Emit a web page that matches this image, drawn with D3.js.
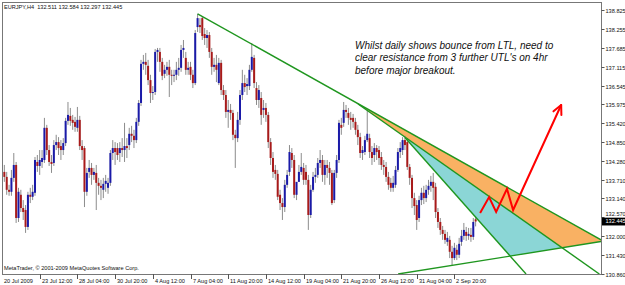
<!DOCTYPE html>
<html><head><meta charset="utf-8">
<script src="https://cdn.jsdelivr.net/npm/d3@7"></script>
<style>html,body{margin:0;padding:0;background:#fff;overflow:hidden}svg{display:block}</style>
</head><body><svg id="c" width="625" height="285"></svg>
<script>
const symbolInfo = "EURJPY,H4  132.511 132.584 132.297 132.445";
const copyright = "MetaTrader, \u00a9 2001-2009 MetaQuotes Software Corp.";
const timeLabels = ["20 Jul 2009","23 Jul 12:00","28 Jul 04:00","30 Jul 20:00","4 Aug 12:00","7 Aug 04:00","11 Aug 20:00","14 Aug 12:00","19 Aug 04:00","21 Aug 20:00","26 Aug 12:00","31 Aug 04:00","2 Sep 20:00"];
const timeLabelBars = [0,16,32,48,64,80,96,112,128,144,160,176,192];
const priceLabels = ["138.825","138.255","137.685","137.115","136.545","135.975","135.420","134.850","134.280","133.710","133.140","132.570","132.000","131.430","130.860"];
const lastPrice = 132.445;

const open = [
134.15,133.94,133.79,133.40,133.34,133.76,134.15,132.55,133.25,132.85,
132.79,132.28,133.25,133.19,133.31,134.24,134.12,134.24,134.30,135.27,
134.60,134.24,134.21,134.75,134.84,134.72,134.60,134.81,135.48,135.63,
135.51,135.45,135.27,135.51,134.72,134.66,133.34,133.94,134.06,133.85,
133.91,133.61,133.52,133.40,133.58,133.46,133.61,134.51,134.66,134.66,
134.51,134.66,134.60,134.72,134.75,135.09,135.03,134.90,135.45,136.02,
137.20,137.26,137.14,136.71,136.32,136.35,137.56,137.56,137.26,136.90,
137.02,137.11,136.87,136.84,136.87,137.02,137.08,137.62,137.38,137.02,
137.11,136.87,136.62,138.31,138.37,138.58,138.10,137.98,138.07,137.56,
137.11,137.17,136.62,137.23,136.41,136.26,135.75,135.81,135.72,135.06,
134.96,135.51,136.26,136.62,136.53,136.53,137.02,137.38,136.47,136.11,
136.17,135.81,135.87,135.66,134.84,134.36,134.00,133.88,133.25,133.00,
132.88,133.55,133.94,134.51,134.30,133.25,133.64,133.94,134.06,133.94,
133.70,132.64,133.40,133.79,133.85,134.21,134.30,133.85,134.15,134.06,
133.91,133.09,133.91,134.30,135.36,135.42,135.81,135.72,135.57,135.57,
135.45,135.21,134.99,134.51,134.54,134.90,134.96,134.54,134.45,134.66,
134.60,134.39,134.15,134.09,133.79,133.61,133.46,133.55,134.00,134.54,
134.60,134.90,134.84,134.09,133.76,133.15,132.94,132.55,133.09,133.31,
133.15,133.40,133.52,133.64,133.49,132.73,132.43,132.19,132.07,131.83,
131.89,131.53,131.34,131.59,131.44,131.83,132.01,132.13,132.01,132.04,
131.98,132.511];
const high = [
134.30,134.15,133.94,133.55,134.00,134.51,134.24,133.46,133.40,133.09,
132.94,133.34,133.46,133.55,134.39,134.45,134.60,134.60,135.57,135.36,
134.75,134.45,134.90,135.06,134.99,134.90,134.96,135.57,136.05,135.87,
135.66,135.60,135.90,135.63,134.90,134.72,134.06,134.30,134.21,134.06,
134.15,133.76,133.70,133.76,133.85,133.76,134.60,134.90,134.84,134.81,
134.84,134.96,135.42,134.96,135.27,135.33,135.21,135.57,136.11,137.32,
137.47,137.53,137.32,136.87,136.53,137.65,137.68,137.68,137.38,137.17,
137.26,137.32,137.02,137.02,137.26,137.38,137.77,137.92,137.56,137.26,
137.26,137.02,138.22,138.71,138.58,138.64,138.28,138.22,138.16,137.68,
137.38,137.47,137.38,137.32,136.56,136.41,136.11,135.99,135.81,135.21,
135.75,136.41,137.02,136.87,136.77,137.17,137.83,137.47,136.65,136.56,
136.35,136.11,136.02,135.75,134.96,134.54,134.15,134.00,133.40,133.15,
133.70,134.00,134.75,134.66,134.45,133.55,134.15,134.51,134.21,134.15,
133.85,133.55,133.94,134.06,134.36,134.60,134.45,134.30,134.30,134.24,
134.00,134.00,134.45,135.51,135.57,136.05,135.96,135.87,135.75,135.69,
135.57,135.36,135.12,134.72,135.03,135.81,135.09,134.72,134.81,134.75,
134.72,134.54,134.30,134.24,133.94,133.76,133.82,134.12,134.66,134.84,
134.99,135.03,134.96,134.18,133.85,133.31,133.09,133.22,133.46,133.52,
133.55,133.70,133.82,133.91,133.61,132.85,132.55,132.31,132.19,132.13,
132.01,131.71,131.80,131.74,131.95,132.19,132.40,132.28,132.25,132.25,
132.55,132.584];
const low = [
133.76,133.64,133.25,133.22,133.22,133.64,132.40,132.43,132.73,132.49,
132.10,132.19,133.00,133.09,133.22,133.94,133.85,134.06,134.21,134.45,
134.12,133.91,134.12,134.60,134.45,134.30,134.45,134.72,135.36,135.33,
135.21,135.15,135.15,134.60,134.30,132.88,133.22,133.76,133.55,133.70,
132.79,133.25,133.09,133.15,133.34,133.28,133.52,134.30,134.15,134.30,
134.24,134.39,134.24,134.36,134.60,134.84,134.66,134.81,135.33,135.93,
137.02,136.87,136.56,136.02,136.11,136.26,137.26,136.96,136.71,136.77,
136.84,136.20,136.56,136.65,136.71,136.84,136.96,137.38,136.87,136.87,
136.71,136.47,136.56,138.16,138.13,137.92,137.77,137.68,137.38,136.87,
136.96,136.65,136.56,136.26,136.11,135.57,135.27,135.51,134.90,134.06,
134.84,135.36,136.11,136.35,136.26,136.41,136.96,136.47,135.96,135.87,
135.36,135.57,135.45,134.66,134.15,133.76,133.70,133.09,132.79,132.49,
132.73,133.46,133.82,134.06,133.15,133.09,133.64,133.85,133.55,133.55,
132.19,132.55,133.34,133.61,133.76,134.06,133.64,133.55,133.76,133.55,
132.94,133.00,133.76,134.21,135.06,135.30,135.57,135.36,135.21,135.27,
135.06,134.75,134.36,134.30,134.45,134.84,134.36,134.15,134.24,134.30,
134.15,134.00,133.85,133.64,133.40,133.34,133.34,133.46,133.94,134.36,
134.45,134.60,134.00,133.55,132.85,132.64,132.19,132.43,132.94,132.97,
133.03,133.25,133.34,133.09,132.55,132.25,132.04,131.89,131.77,131.71,
131.34,131.13,131.28,131.28,131.34,131.71,131.89,131.86,131.89,131.83,
131.89,132.297];
const close = [
133.94,133.79,133.40,133.34,133.76,134.15,132.55,133.34,132.85,132.73,
132.28,133.25,133.19,133.34,134.30,134.12,134.30,134.36,135.27,134.60,
134.24,134.18,134.75,134.84,134.66,134.60,134.81,135.48,135.66,135.48,
135.42,135.30,135.51,134.72,134.60,133.34,133.91,134.06,133.85,133.94,
133.61,133.52,133.46,133.58,133.67,133.61,134.51,134.66,134.54,134.45,
134.66,134.60,134.72,134.66,135.09,135.03,134.90,135.45,136.02,137.20,
137.26,137.17,136.71,136.32,136.35,137.56,137.62,137.26,136.84,137.02,
137.11,136.87,136.84,136.87,137.02,137.08,137.62,137.68,137.02,137.08,
136.87,136.62,138.13,138.58,138.31,138.04,137.98,138.07,137.56,137.11,
137.17,137.02,137.23,136.41,136.26,135.75,135.81,135.72,135.06,134.96,
135.51,136.26,136.62,136.50,136.59,137.02,137.41,136.62,136.11,136.41,
135.66,135.87,135.66,134.84,134.36,133.94,133.88,133.19,133.00,132.88,
133.55,133.85,134.54,134.30,133.25,133.64,133.94,134.09,133.70,133.70,
132.64,133.40,133.79,133.85,134.21,134.30,133.85,134.15,134.06,133.91,
133.00,133.91,134.30,135.42,135.27,135.81,135.75,135.57,135.51,135.45,
135.21,134.99,134.51,134.60,134.90,135.09,134.54,134.36,134.66,134.54,
134.36,134.15,134.09,133.79,133.55,133.46,133.61,134.00,134.54,134.66,
134.90,134.75,134.09,133.76,133.15,132.91,132.49,133.09,133.31,133.15,
133.40,133.52,133.64,133.46,132.73,132.43,132.19,132.07,131.89,131.95,
131.53,131.34,131.65,131.44,131.77,132.01,132.19,132.01,132.07,131.98,
132.43,132.445];

// trend lines: [bar index, price] end points
const upperTrend  = [[83, 138.71], [254.2, 131.89]];
const secondTrend = [[151.1, 135.99], [253.5, 130.86]];
const thirdTrend  = [[171, 134.98], [222.4, 130.86]];
const lowerTrend  = [[168.1, 130.86], [254.2, 131.84]];
const projection  = [[202.9,132.70],[206.7,133.18],[209.7,132.73],[214.3,133.43],[216.9,132.79],[237.3,135.96]];
const noteLines = ["Whilst daily shows bounce from LTL, need to","clear resistance from 3 further UTL's on 4hr","before major breakout."];

const L = 2, R = 601, T = 2, B = 274;
const svg = d3.select("#c");
const x = d3.scaleLinear().domain([0, 254.2]).range([L, R]);
const y = d3.scaleLinear().domain([130.860, 138.825]).range([274, 10]);
const FONT = "'Liberation Sans', Arial, sans-serif";

svg.append("rect").attr("width",625).attr("height",285).attr("fill","#fff");
svg.append("clipPath").attr("id","clip").append("rect").attr("x",L).attr("y",T).attr("width",R-L).attr("height",B-T);
const plot = svg.append("g").attr("clip-path","url(#clip)");

const px = p => [x(p[0]), y(p[1])];
const U = upperTrend.map(px), S = secondTrend.map(px), Th = thirdTrend.map(px), Lo = lowerTrend.map(px);
function inter(a, b) {
  const [p1,p2] = a, [p3,p4] = b;
  const d = (p1[0]-p2[0])*(p3[1]-p4[1]) - (p1[1]-p2[1])*(p3[0]-p4[0]);
  const t = ((p1[0]-p3[0])*(p3[1]-p4[1]) - (p1[1]-p3[1])*(p3[0]-p4[0])) / d;
  return [p1[0]+t*(p2[0]-p1[0]), p1[1]+t*(p2[1]-p1[1])];
}
const orange = [inter(U,S), inter(U,Lo), inter(S,Lo)];
const teal = [inter(S,Th), inter(S,Lo), inter(Th,Lo)];
plot.append("polygon").attr("points", orange.map(p=>p.join(",")).join(" ")).attr("fill","#f9b163");
plot.append("polygon").attr("points", teal.map(p=>p.join(",")).join(" ")).attr("fill","#8bd6d6");

// candles
const idx = d3.range(close.length);
plot.append("g").selectAll("line").data(idx).join("line")
  .attr("x1", i=>x(i)).attr("x2", i=>x(i))
  .attr("y1", i=>y(high[i])).attr("y2", i=>y(low[i]))
  .attr("stroke","#8c8c8c").attr("stroke-width",1);
plot.append("g").selectAll("rect").data(idx).join("rect")
  .attr("x", i=>x(i)-1).attr("width",2)
  .attr("y", i=>y(Math.max(open[i],close[i])))
  .attr("height", i=>Math.max(0.8, Math.abs(y(open[i])-y(close[i]))))
  .attr("fill", i=> close[i] >= open[i] ? "#1a1aa8" : "#a81a1a");

// trend lines
const lineGen = d3.line();
[U,S,Th,Lo].forEach(seg => {
  plot.append("path").attr("d", lineGen(seg)).attr("stroke","#1f961f").attr("stroke-width",1.4).attr("fill","none");
});

// projection arrow
const P = projection.map(px);
plot.append("path").attr("d", lineGen(P)).attr("stroke","#ff0000").attr("stroke-width",2).attr("fill","none").attr("stroke-linejoin","miter");
const tip = P[P.length-1], prev = P[P.length-2];
const ang = Math.atan2(tip[1]-prev[1], tip[0]-prev[0]);
[-0.45, 0.45].forEach(a => {
  const b = ang + Math.PI + a;
  plot.append("line").attr("x1",tip[0]).attr("y1",tip[1])
    .attr("x2",tip[0]+10*Math.cos(b)).attr("y2",tip[1]+10*Math.sin(b))
    .attr("stroke","#ff0000").attr("stroke-width",2).attr("stroke-linecap","round");
});

// frame
svg.append("rect").attr("x",L+0.5).attr("y",T+0.5).attr("width",R-L).attr("height",B-T)
  .attr("fill","none").attr("stroke","#777").attr("stroke-width",1);

// price axis
const pa = svg.append("g");
const ly = y(lastPrice);
priceLabels.forEach(t => {
  const yy = Math.round(y(+t)) + 0.5;
  pa.append("line").attr("x1",R+0.5).attr("x2",R+3.5).attr("y1",yy).attr("y2",yy).attr("stroke","#555");
  const near = Math.abs(yy - ly) < 8;
  pa.append("text").attr("x",R+4.5).attr("y", near ? ly - 7.2 : yy).attr("dy","0.36em").text(t)
    .attr("font-family",FONT).attr("font-size",5.6).attr("fill","#111");
});
svg.append("rect").attr("x",R+1).attr("y",ly-3.8).attr("width",24).attr("height",7.8).attr("fill","#000");
svg.append("text").attr("x",R+4.5).attr("y",ly).attr("dy","0.36em").text(lastPrice.toFixed(3))
  .attr("font-family",FONT).attr("font-size",5.6).attr("fill","#fff");

// time axis
const ta = svg.append("g");
timeLabels.forEach((t,k) => {
  const xx = Math.round(x(timeLabelBars[k])) + 0.5;
  if (k > 0) ta.append("line").attr("x1",xx).attr("x2",xx).attr("y1",B).attr("y2",B+5).attr("stroke","#555");
  ta.append("text").attr("x",xx+1.5).attr("y",B+8.5).text(t)
    .attr("font-family",FONT).attr("font-size",5.6).attr("fill","#111");
});

// header & copyright
svg.append("text").attr("x",4).attr("y",9).text(symbolInfo).attr("xml:space","preserve").style("white-space","pre")
  .attr("font-family",FONT).attr("font-size",5.6).attr("fill","#111");
svg.append("text").attr("x",4).attr("y",270).text(copyright)
  .attr("font-family",FONT).attr("font-size",5.6).attr("fill","#111");

// note
const note = svg.append("text").attr("font-family",FONT).attr("font-size",10).attr("font-style","italic").attr("fill","#111");
noteLines.forEach((s,k) => note.append("tspan").attr("x",355).attr("y",49 + k*12.3).text(s));
</script></body></html>
